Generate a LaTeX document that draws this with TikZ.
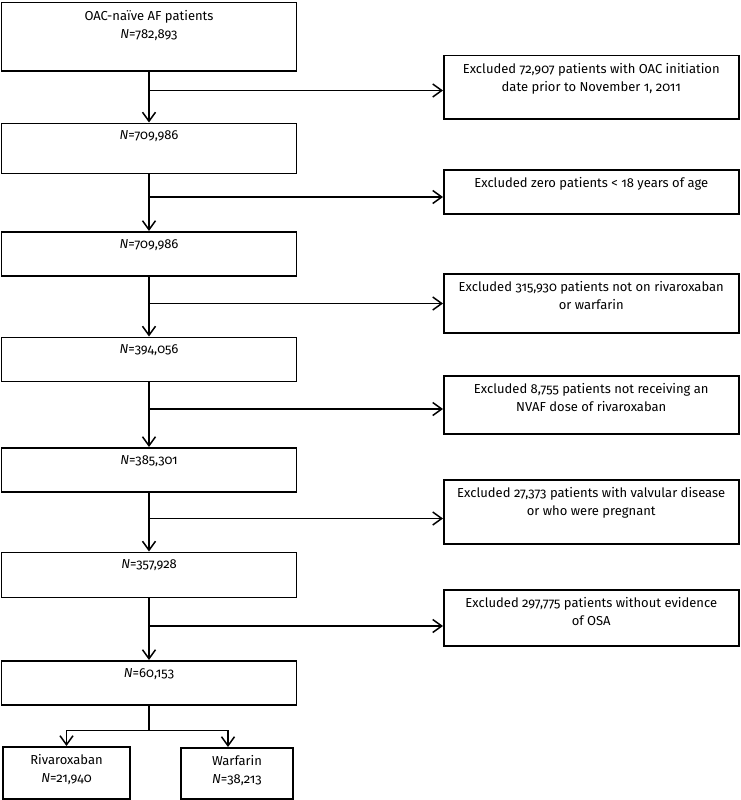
\documentclass[tikz,border=0pt]{standalone}
\usepackage{fontspec}
\setmainfont{Fira Sans}[Numbers=OldStyle]
\usetikzlibrary{positioning,arrows.meta}

\tikzset{
    box/.style={draw, line width=1.5pt, minimum width=295pt, inner sep=0pt, anchor=north},
    exbox/.style={box, anchor=north west},
    boxtext/.style={anchor=north, yshift=-4pt, inner sep=4pt, align=center,
        font=\fontsize{13}{18.5}\selectfont},
    flow/.style={line width=1.5pt, -{Straight Barb[length=9pt,width=13pt,line width=1.5pt]}},
    link/.style={line width=1.5pt},
}

\begin{document}
\begin{tikzpicture}[x=1pt, y=1pt]
    \useasboundingbox (0,0) rectangle (740,-800);
    % main column
    \node [box, minimum height=68pt, label={[boxtext]north:OAC-naïve AF patients\\\textit{N}=782,893}] (n1) at (149,-2) {};
    \node [box, below=51pt of n1, minimum height=50pt, label={[boxtext]north:\textit{N}=709,986}] (n2) {};
    \node [box, below=57pt of n2, minimum height=44pt, label={[boxtext]north:\textit{N}=709,986}] (n3) {};
    \node [box, below=60pt of n3, minimum height=44pt, label={[boxtext]north:\textit{N}=394,056}] (n4) {};
    \node [box, below=65pt of n4, minimum height=44pt, label={[boxtext]north:\textit{N}=385,301}] (n5) {};
    \node [box, below=59pt of n5, minimum height=45pt, label={[boxtext]north:\textit{N}=357,928}] (n6) {};
    \node [box, below=62pt of n6, minimum height=44pt, label={[boxtext]north:\textit{N}=60,153}] (n7) {};
    % exclusions
    \node [exbox, minimum height=63pt, label={[boxtext]north:Excluded 72,907 patients with OAC initiation\\date prior to November 1, 2011}] (e1) at (443,-55) {};
    \node [exbox, minimum height=44pt, label={[boxtext]north:Excluded zero patients < 18 years of age}] (e2) at (443,-169) {};
    \node [exbox, minimum height=59pt, label={[boxtext]north:Excluded 315,930 patients not on rivaroxaban\\or warfarin}] (e3) at (443,-273) {};
    \node [exbox, minimum height=58pt, label={[boxtext]north:Excluded 8,755 patients not receiving an\\NVAF dose of rivaroxaban}] (e4) at (443,-375) {};
    \node [exbox, minimum height=64pt, label={[boxtext]north:Excluded 27,373 patients with valvular disease\\or who were pregnant}] (e5) at (443,-479) {};
    \node [exbox, minimum height=56pt, label={[boxtext]north:Excluded 297,775 patients without evidence\\of OSA}] (e6) at (443,-589) {};
    % treatment groups
    \node [box, minimum width=127pt, minimum height=52pt, label={[boxtext]north:Rivaroxaban\\\textit{N}=21,940}] (riva) at (66.5,-746) {};
    \node [box, minimum width=112pt, minimum height=51pt, label={[boxtext]north:Warfarin\\\textit{N}=38,213}] (warf) at (237,-747) {};

    \coordinate [below=19pt of n1.south] (b1);
    \coordinate [below=23pt of n2.south] (b2);
    \coordinate [below=27pt of n3.south] (b3);
    \coordinate [below=27pt of n4.south] (b4);
    \coordinate [below=26pt of n5.south] (b5);
    \coordinate [below=28pt of n6.south] (b6);
    \coordinate [below=25pt of n7.south] (split);

    \draw [flow] (n1) -- (n2);
    \draw [flow] (n2) -- (n3);
    \draw [flow] (n3) -- (n4);
    \draw [flow] (n4) -- (n5);
    \draw [flow] (n5) -- (n6);
    \draw [flow] (n6) -- (n7);
    \foreach \i in {1,...,6}
        \draw [flow] (b\i) -- (b\i -| e\i.west);
    \draw [link] (n7) -- (split);
    \draw [flow] (split) -| (riva);
    \draw [flow] (split) -| ([xshift=-9pt]warf.north);
\end{tikzpicture}
\end{document}
